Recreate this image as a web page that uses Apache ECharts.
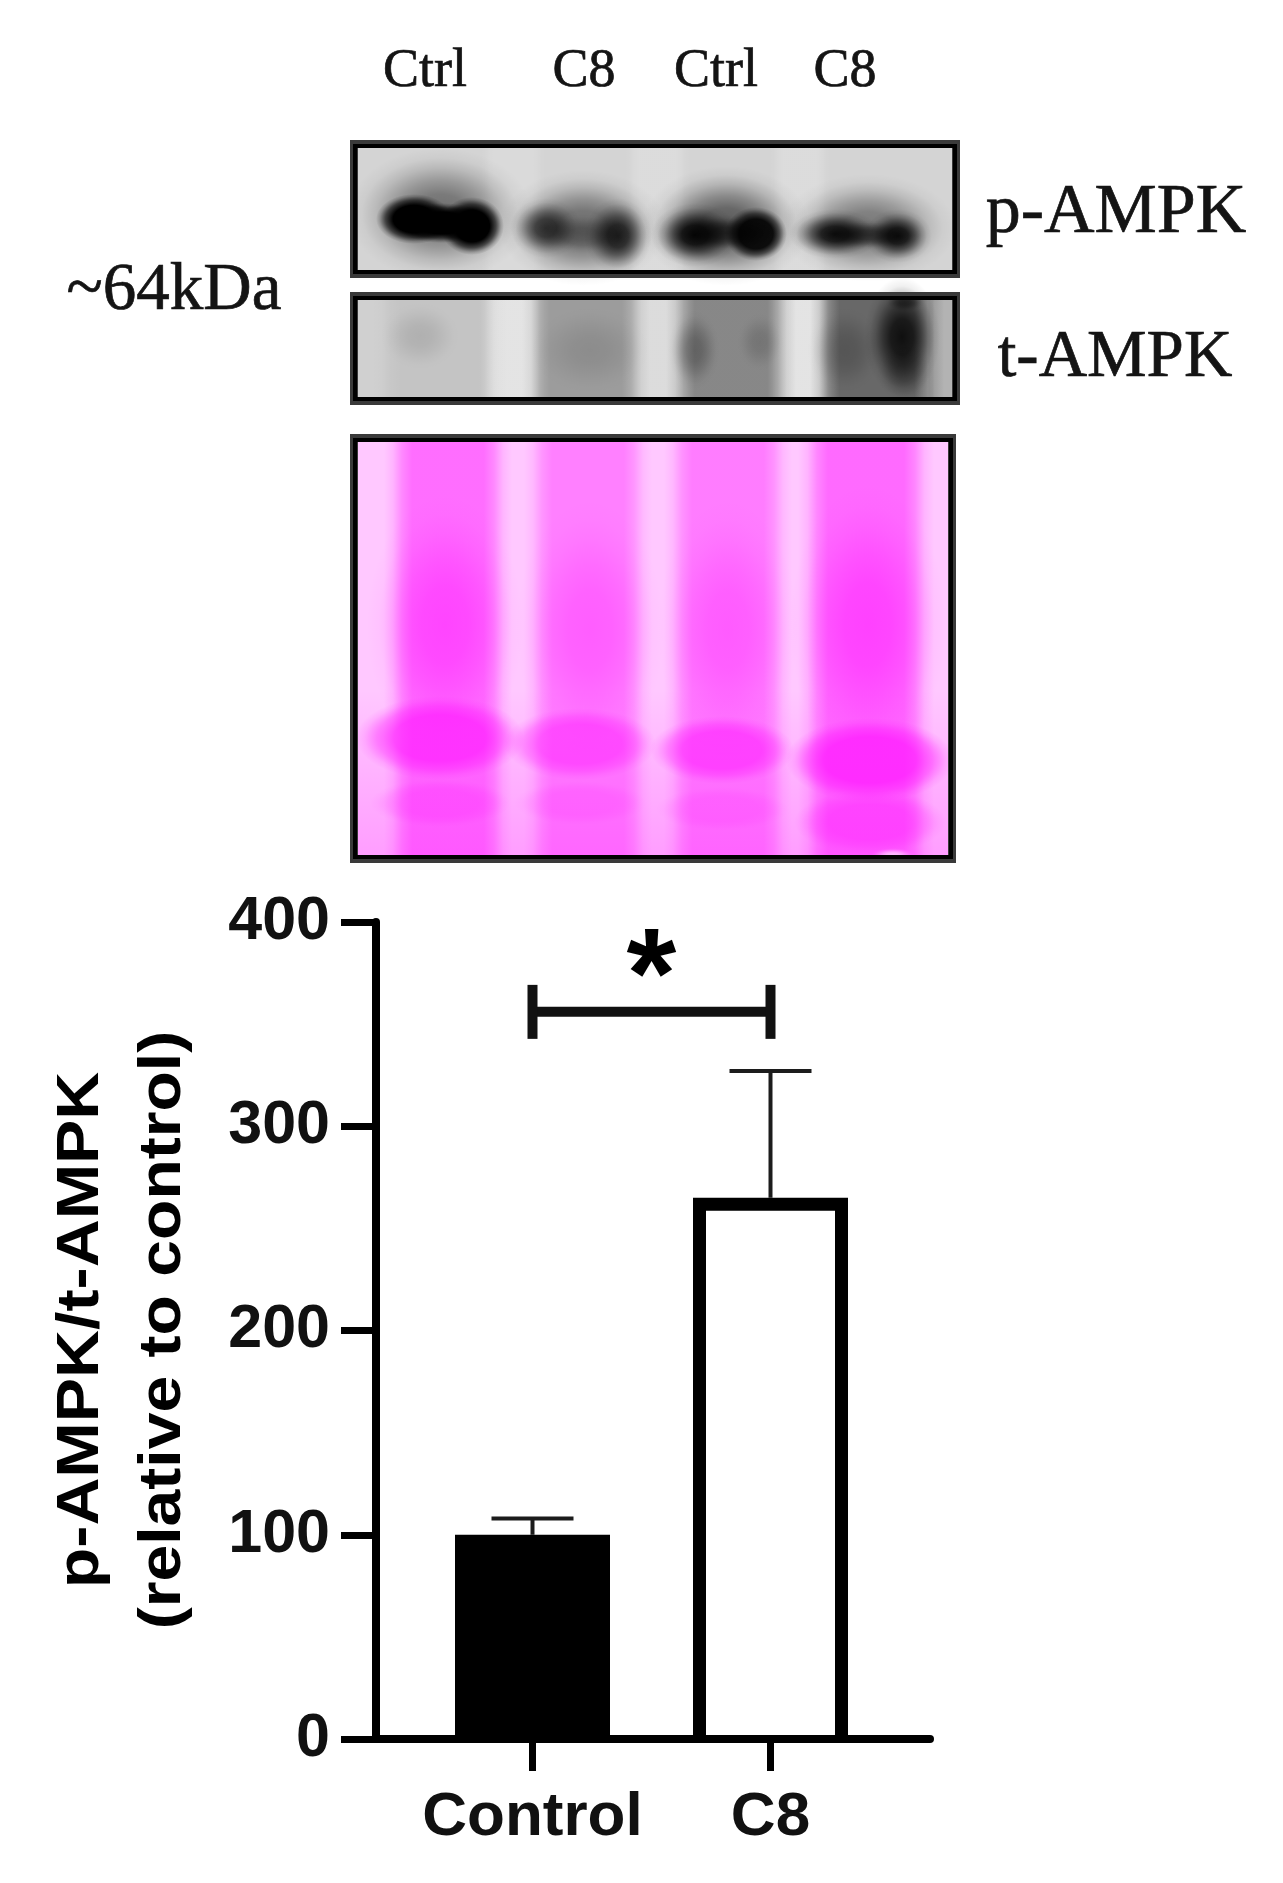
<!DOCTYPE html>
<html><head><meta charset="utf-8">
<style>html,body{margin:0;padding:0;background:#fff}#c{width:1283px;height:1883px}</style>
<script src="https://cdn.jsdelivr.net/npm/echarts@6/dist/echarts.min.js"></script>
</head><body><div id="c"></div>
<script>
// ---- chart data ----
const categories = ['Control', 'C8'];
const meanValues = [100, 265];
const upperErrorValues = [108, 327];
const barFills = ['#000000', '#ffffff'];
const yTicks = [0, 100, 200, 300, 400];
const bracketValue = 356;
const bracketLabel = '*';
const yTitleLines = ['p-AMPK/t-AMPK', '(relative to control)'];
const laneLabels = ['Ctrl', 'C8', 'Ctrl', 'C8'];
const blotLabels = ['p-AMPK', 't-AMPK'];
const sizeLabel = '~64kDa';

const chart = echarts.init(document.getElementById('c'), null, {renderer: 'canvas', width: 1283, height: 1883});
const {RadialGradient, LinearGradient} = echarts.graphic;

// ---- blot picture helpers ----
function ellipse(cx, cy, rx, ry, stops) {
  return {type: 'circle', x: cx, y: cy, scaleX: rx / 100, scaleY: ry / 100, silent: true,
    shape: {cx: 0, cy: 0, r: 100},
    style: {fill: new RadialGradient(0.5, 0.5, 0.5, stops)}};
}
// soft haze
function blob(cx, cy, rx, ry, rgb, a) {
  return ellipse(cx, cy, rx, ry, [[0, 1], [.3, .88], [.5, .6], [.7, .26], [.85, .07], [1, 0]]
    .map(([offset, k]) => ({offset, color: `rgba(${rgb},${a * k})`})));
}
// flat-topped dense band
function core(cx, cy, rx, ry, rgb, a) {
  return ellipse(cx, cy, rx, ry, [[0, 1], [.55, 1], [.75, .62], [.9, .18], [1, 0]]
    .map(([offset, k]) => ({offset, color: `rgba(${rgb},${a * k})`})));
}
function lane(x0, x1, y0, y1, rgb, a) {
  return {type: 'rect', silent: true, shape: {x: x0, y: y0, width: x1 - x0, height: y1 - y0},
    style: {fill: new LinearGradient(0, 0, 1, 0, [[0, 0], [.07, .22], [.14, .7], [.22, 1], [.78, 1], [.86, .7], [.93, .22], [1, 0]]
      .map(([offset, k]) => ({offset, color: `rgba(${rgb},${a * k})`})))}};
}
function panelBg(x0, x1, y0, y1, fill) {
  return {type: 'rect', silent: true, shape: {x: x0, y: y0, width: x1 - x0, height: y1 - y0}, style: {fill}};
}
function frame(x0, x1, y0, y1) {
  return [
    {type: 'rect', silent: true, shape: {x: x0 + 4, y: y0 + 4, width: x1 - x0 - 8, height: y1 - y0 - 8},
      style: {fill: 'none', stroke: '#3a3a3a', lineWidth: 8}},
    {type: 'rect', silent: true, shape: {x: x0 + 5, y: y0 + 6, width: x1 - x0 - 10, height: y1 - y0 - 12},
      style: {fill: 'none', stroke: '#000', lineWidth: 4}}
  ];
}
const K = '0,0,0', M = '255,20,255', W = '255,255,255';

const pBlot = [
  panelBg(350, 960, 140, 278, '#d4d4d4'),
  lane(480, 546, 146, 272, W, .15), lane(625, 690, 146, 272, W, .18), lane(770, 830, 146, 272, W, .18),
  blob(440, 214, 92, 66, K, .48), blob(583, 228, 84, 58, K, .50), blob(726, 226, 84, 60, K, .58), blob(868, 228, 88, 54, K, .44),
  core(414, 219, 38, 25, K, 1), core(472, 226, 32, 29, K, 1), core(442, 223, 48, 20, K, 1),
  blob(546, 228, 36, 30, K, .68), blob(618, 236, 34, 38, K, .80), blob(583, 234, 52, 20, K, .25),
  blob(695, 235, 44, 32, K, .95), core(756, 234, 31, 27, K, .92), blob(726, 233, 54, 18, K, .58),
  blob(835, 234, 46, 25, K, .90), blob(898, 236, 34, 27, K, .90), blob(868, 235, 54, 15, K, .55)
].concat(frame(350, 960, 140, 278));

const tBlot = [
  panelBg(350, 960, 292, 405, '#d0d0d0'),
  lane(480, 545, 296, 402, W, .42), lane(768, 832, 296, 402, W, .42), lane(625, 695, 296, 402, W, .25),
  lane(372, 508, 296, 402, K, .06), lane(522, 650, 296, 402, K, .25), lane(666, 796, 296, 402, K, .35), lane(810, 944, 296, 402, K, .50),
  lane(925, 958, 296, 402, K, .14),
  blob(420, 336, 40, 34, K, .10), blob(590, 350, 60, 44, K, .10), blob(694, 350, 26, 40, K, .28), blob(760, 342, 24, 30, K, .14),
  blob(845, 350, 38, 44, K, .18), blob(902, 337, 38, 60, K, .85), blob(905, 372, 28, 30, K, .28), blob(905, 302, 20, 10, K, .5)
].concat(frame(350, 960, 292, 405));

const ponceau = [
  panelBg(350, 956, 434, 863, '#ffc8ff'),
  lane(384, 512, 440, 857, M, .50), lane(524, 652, 440, 857, M, .40), lane(664, 792, 440, 857, M, .42), lane(798, 934, 440, 857, M, .52),
  {type: 'rect', silent: true, shape: {x: 356, y: 690, width: 594, height: 167},
    style: {fill: new LinearGradient(0, 0, 0, 1, [
      {offset: 0, color: `rgba(${M},0)`}, {offset: .5, color: `rgba(${M},.12)`}, {offset: 1, color: `rgba(${M},.24)`}])}},
  blob(445, 625, 78, 130, M, .46), blob(590, 630, 74, 130, M, .32), blob(728, 630, 70, 130, M, .32), blob(868, 625, 78, 140, M, .48),
  core(440, 738, 84, 42, M, .62), core(580, 744, 76, 36, M, .46), core(722, 750, 72, 34, M, .52), core(870, 760, 84, 42, M, .68),
  core(440, 803, 70, 24, M, .22), core(580, 803, 66, 22, M, .14), core(722, 809, 66, 22, M, .14), core(870, 822, 76, 32, M, .34),
  blob(893, 855, 22, 7, W, .6)
].concat(frame(350, 956, 434, 863));

// ---- text around the blots ----
const serif = '"Liberation Serif", serif';
const sans = '"Liberation Sans", Arial, sans-serif';
const laneLabelX = [425, 584, 716, 845];
function serifText(text, x, y, size) {
  return {type: 'text', x, y, silent: true,
    style: {text, fill: '#141414', stroke: '#141414', lineWidth: 0.7, font: `${size}px ${serif}`, align: 'center', verticalAlign: 'middle'}};
}
const texts = [
  ...laneLabels.map((t, i) => serifText(t, laneLabelX[i], 72, 54)),
  serifText(blotLabels[0], 1116, 214, 70),
  serifText(blotLabels[1], 1115, 358, 67),
  serifText(sizeLabel, 174, 291, 67),
  {type: 'text', x: 82, y: 1330, rotation: Math.PI / 2, scaleX: 1.126, silent: true,
    style: {text: yTitleLines[0], fill: '#000', font: `bold 59px ${sans}`, align: 'center', verticalAlign: 'middle'}},
  {type: 'text', x: 164, y: 1330, rotation: Math.PI / 2, scaleX: 1.12, silent: true,
    style: {text: yTitleLines[1], fill: '#000', font: `bold 59px ${sans}`, align: 'center', verticalAlign: 'middle'}}
];

// ---- series that need the axes' scales ----
const errorBars = {
  type: 'custom', xAxisIndex: 0, yAxisIndex: 0, z: 1, silent: true,
  data: categories.map((c, i) => [i, meanValues[i], upperErrorValues[i]]),
  renderItem(p, api) {
    const bottom = api.coord([api.value(0), api.value(1)]);
    const top = api.coord([api.value(0), api.value(2)]);
    const s = {stroke: '#1c1c1c', lineWidth: 4};
    return {type: 'group', children: [
      {type: 'line', shape: {x1: top[0], y1: top[1], x2: bottom[0], y2: bottom[1]}, style: s},
      {type: 'line', shape: {x1: top[0] - 41, y1: top[1], x2: top[0] + 41, y2: top[1]}, style: s}
    ]};
  }
};
// the bars stand open on the x axis: their fill covers the bottom outline
const barBase = {
  type: 'custom', xAxisIndex: 0, yAxisIndex: 0, z: 3, silent: true,
  data: categories.map((c, i) => [i, 0]),
  renderItem(p, api) {
    const base = api.coord([api.value(0), 0]);
    return {type: 'rect', shape: {x: base[0] - 64.5, y: base[1] - 15, width: 129, height: 11},
      style: {fill: barFills[p.dataIndex]}};
  }
};
const bracket = {
  type: 'custom', xAxisIndex: 0, yAxisIndex: 0, z: 5, silent: true,
  data: [[0, 1, bracketValue]],
  renderItem(p, api) {
    const a = api.coord([api.value(0), api.value(2)]);
    const b = api.coord([api.value(1), api.value(2)]);
    const s = {stroke: '#111', lineWidth: 10};
    const m = (a[0] + b[0]) / 2;
    return {type: 'group', children: [
      {type: 'line', shape: {x1: a[0], y1: a[1], x2: b[0], y2: b[1]}, style: s},
      {type: 'line', shape: {x1: a[0], y1: a[1] - 27, x2: a[0], y2: a[1] + 27}, style: s},
      {type: 'line', shape: {x1: b[0], y1: b[1] - 27, x2: b[0], y2: b[1] + 27}, style: s},
      {type: 'text', x: m, y: a[1] - 30, style: {text: bracketLabel, fill: '#000', font: `bold 128px ${sans}`, align: 'center', verticalAlign: 'middle'}}
    ]};
  }
};

chart.setOption({
  animation: false,
  backgroundColor: '#fff',
  grid: [
    {left: 413.5, width: 476, top: 922, height: 817},
    {left: 376, width: 554, top: 922, height: 817}
  ],
  xAxis: [
    {type: 'category', gridIndex: 0, data: categories, axisLine: {show: false},
      axisTick: {show: true, alignWithLabel: true, length: 32, lineStyle: {color: '#000', width: 7}},
      axisLabel: {color: '#111', fontFamily: sans, fontWeight: 'bold', fontSize: 62, margin: 48, interval: 0}},
    {type: 'value', gridIndex: 1, min: 0, max: 1, axisLine: {onZero: false, lineStyle: {color: '#000', width: 8}},
      axisTick: {show: false}, axisLabel: {show: false}, splitLine: {show: false}}
  ],
  yAxis: [
    {type: 'value', gridIndex: 0, min: 0, max: 400, interval: 100, show: false},
    {type: 'value', gridIndex: 1, min: yTicks[0], max: yTicks[yTicks.length - 1], interval: 100,
      axisLine: {show: true, lineStyle: {color: '#000', width: 8}},
      axisTick: {show: true, length: 35, lineStyle: {color: '#000', width: 7}},
      axisLabel: {color: '#111', fontFamily: sans, fontWeight: 'bold', fontSize: 61, margin: 46},
      splitLine: {show: false}}
  ],
  series: [
    errorBars,
    {type: 'bar', xAxisIndex: 0, yAxisIndex: 0, barWidth: 155, z: 2, silent: true,
      data: meanValues.map((v, i) => ({value: v,
        itemStyle: {color: barFills[i], borderColor: '#000', borderWidth: 13}}))},
    barBase,
    bracket
  ],
  graphic: {elements: [...pBlot, ...tBlot, ...ponceau, ...texts]}
});
</script></body></html>
